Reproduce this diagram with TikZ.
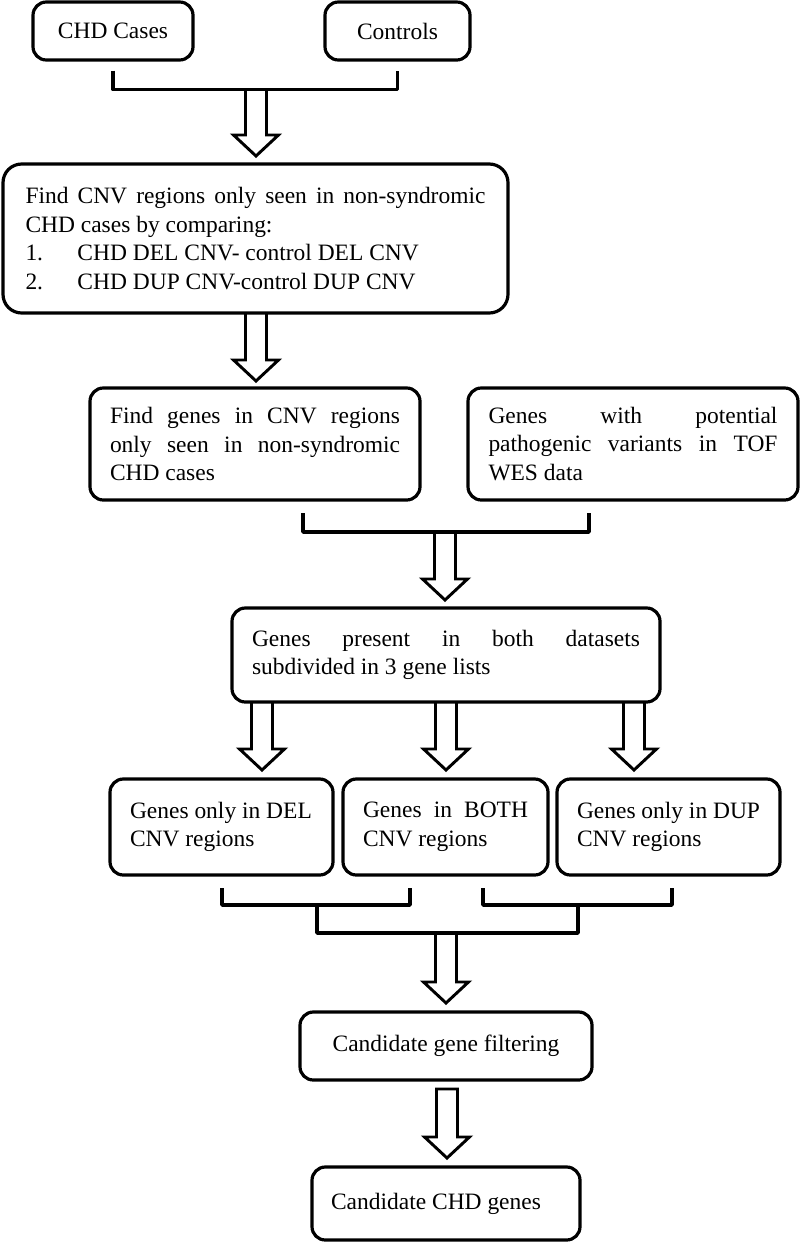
\documentclass[tikz,border=0pt]{standalone}
\usepackage{fontspec}
\setmainfont{Liberation Serif}
\usetikzlibrary{calc}
\tikzset{
  box/.style={draw=black, line width=2.4pt, rounded corners=10pt, inner sep=0pt, fill=white,
    font=\fontsize{17.6pt}{21.5pt}\selectfont},
  bracketline/.style={draw=black, line width=2.6pt, line join=round},
  arrowline/.style={draw=black, line width=2.2pt, line join=miter},
}
\newcommand{\blockarrow}[2]{%
  \draw[arrowline] ($(#1)+(-10.5,0)$) -- ($(#2)+(-10.5,-21)$) -- ($(#2)+(-22.5,-21)$) -- (#2)
    -- ($(#2)+(22.5,-21)$) -- ($(#2)+(10.5,-21)$) -- ($(#1)+(10.5,0)$);}
\newcommand{\closedarrow}[2]{%
  \draw[arrowline] ($(#1)+(-10.5,0)$) -- ($(#2)+(-10.5,-21)$) -- ($(#2)+(-22.5,-21)$) -- (#2)
    -- ($(#2)+(22.5,-21)$) -- ($(#2)+(10.5,-21)$) -- ($(#1)+(10.5,0)$) -- cycle;}
\newcommand{\jl}[2]{\makebox[#1][s]{#2}}
\newcommand{\bx}[7][]{%
  \pgfmathsetmacro\bxw{(#5-#3)*0.75}%
  \pgfmathsetmacro\bxh{(#6-#4)*0.75}%
  \node[box,#1,minimum width=\bxw pt,minimum height=\bxh pt] (#2) at ({(#3+#5)/2},{(#4+#6)/2}) {#7};}
\begin{document}
\begin{tikzpicture}[x=0.75pt,y=-0.75pt]
\useasboundingbox (0,0) rectangle (800,1242);

% boxes
\bx{b1}{33}{2}{193}{60}{CHD Cases}
\bx{b2}{325}{2}{470}{60}{Controls}
\bx[rounded corners=14pt]{b3}{3}{164}{508}{313}{\parbox{345pt}{%
  \jl{345pt}{Find CNV regions only seen in non-syndromic}\\
  CHD cases by comparing:\\
  \makebox[39pt][l]{1.}CHD DEL CNV- control DEL CNV\\
  \makebox[39pt][l]{2.}CHD DUP CNV-control DUP CNV}}
\bx{b4}{90}{388}{420}{500}{\parbox{217.5pt}{%
  \jl{217.5pt}{Find genes in CNV regions}\\
  \jl{217.5pt}{only seen in non-syndromic}\\
  CHD cases}}
\bx{b5}{468}{388}{798}{500}{\parbox{216.75pt}{%
  \jl{216.75pt}{Genes with potential}\\
  \jl{216.75pt}{pathogenic variants in TOF}\\
  WES data}}
\bx{b6}{232}{608}{660}{702}{\parbox{291pt}{%
  \jl{291pt}{Genes present in both datasets}\\
  subdivided in 3 gene lists}}
\bx{b7}{110}{779}{333}{875}{\parbox{137.25pt}{Genes only in DEL\\CNV regions}}
\bx{b8}{343}{779}{548}{875}{\parbox{123.75pt}{\jl{123.75pt}{Genes in BOTH}\\CNV regions}}
\bx{b9}{557}{779}{780}{875}{\parbox{137.25pt}{Genes only in DUP\\CNV regions}}
\bx{b10}{300}{1012}{592}{1080}{Candidate gene filtering}
\bx{b11}{312}{1167}{580}{1240}{Candidate CHD genes\hspace*{15pt}}

% brackets
\draw[bracketline] ($(b1.south)+(0,9)$) -- ++(0,19) -| ($(b2.south)+(0,9)$);
\coordinate (k2a) at (303,513);
\coordinate (k2b) at (589,513);
\draw[bracketline] (k2a) -- ++(0,19) -| (k2b);
\coordinate (k3a) at (222,888);
\coordinate (k3b) at (410,888);
\coordinate (k4a) at (483,888);
\coordinate (k4b) at (672,888);
\coordinate (k5a) at (317,905);
\coordinate (k5b) at (578,905);
\draw[bracketline] (k3a) -- ++(0,17) -| (k3b);
\draw[bracketline] (k4a) -- ++(0,17) -| (k4b);
\draw[bracketline] (k5a) -- ++(0,28) -| (k5b);

% arrows
\coordinate (a1s) at (256,88);   \coordinate (a1t) at (256,156);
\coordinate (a2s) at (256,313);  \coordinate (a2t) at (256,381);
\coordinate (a3s) at (445,532);  \coordinate (a3t) at (445,600);
\coordinate (a4s) at (262,702);  \coordinate (a4t) at (262,770);
\coordinate (a5s) at (446,702);  \coordinate (a5t) at (446,770);
\coordinate (a6s) at (634,702);  \coordinate (a6t) at (634,770);
\coordinate (a7s) at (446,933);  \coordinate (a7t) at (446,1003);
\coordinate (a8s) at (447,1089); \coordinate (a8t) at (447,1158);
\blockarrow{a1s}{a1t}
\blockarrow{a2s}{a2t}
\blockarrow{a3s}{a3t}
\blockarrow{a4s}{a4t}
\blockarrow{a5s}{a5t}
\blockarrow{a6s}{a6t}
\blockarrow{a7s}{a7t}
\closedarrow{a8s}{a8t}
\end{tikzpicture}
\end{document}
